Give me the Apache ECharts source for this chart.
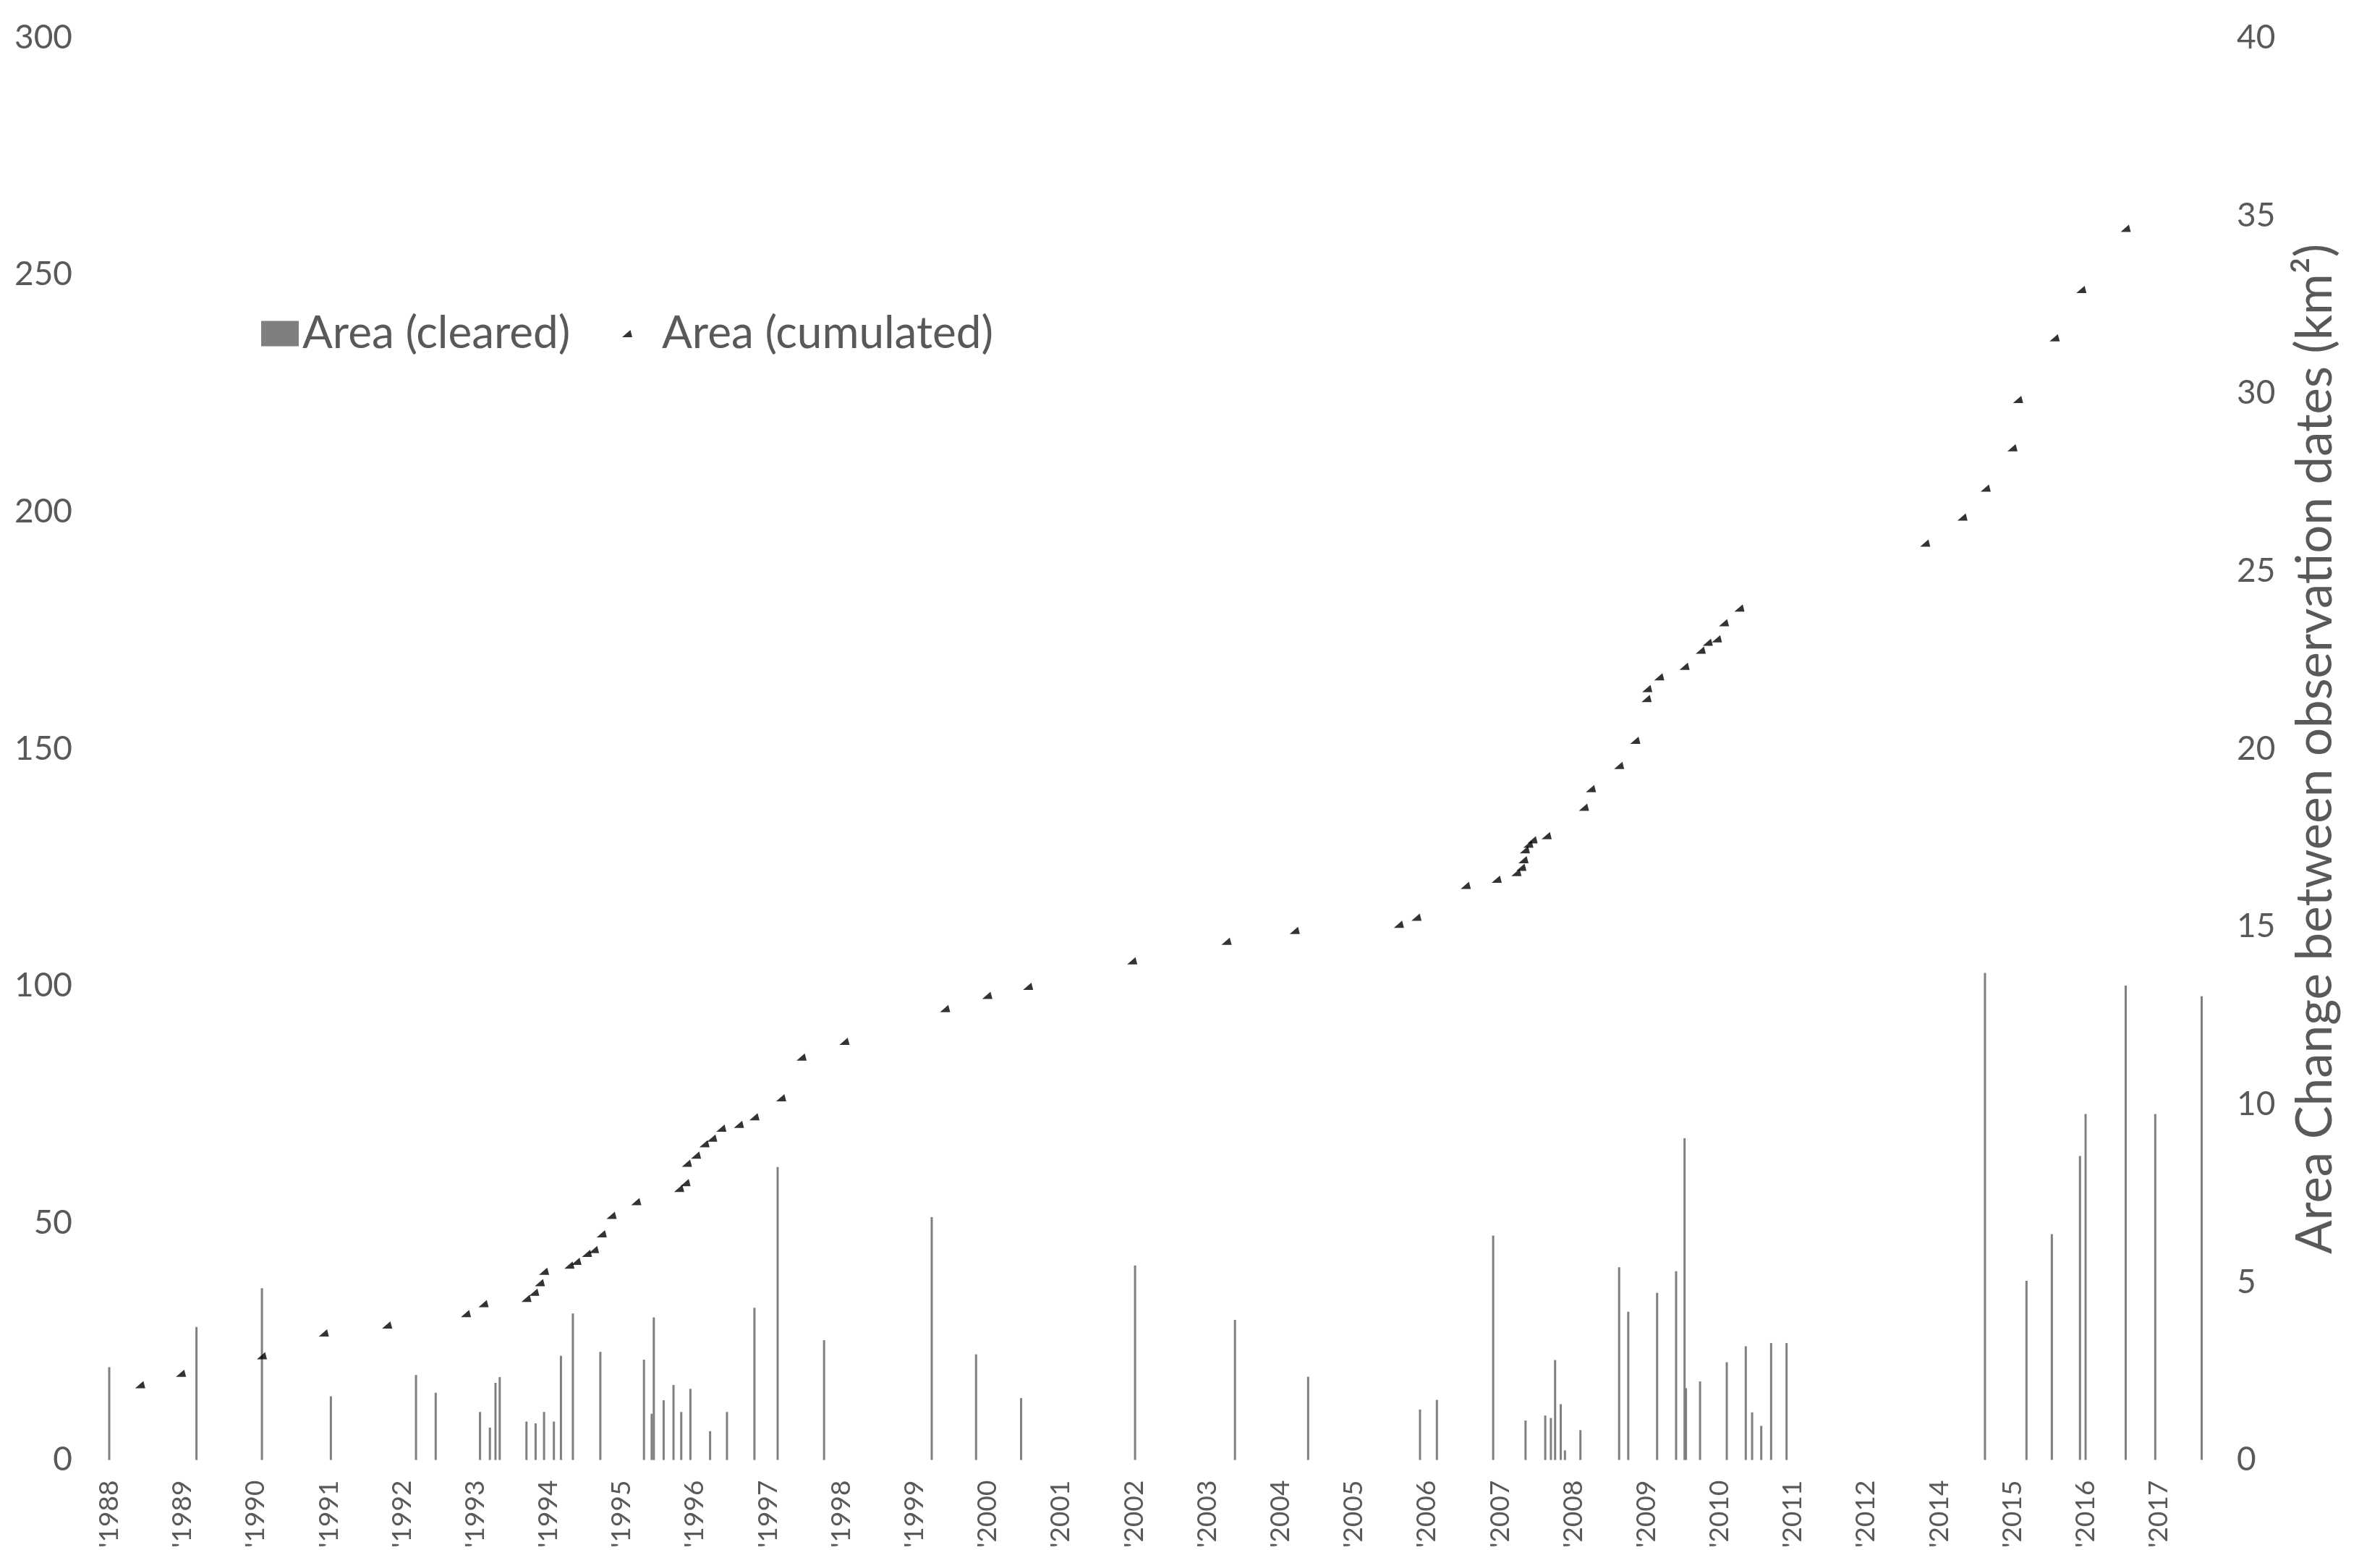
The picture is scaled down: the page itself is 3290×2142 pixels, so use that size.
<!DOCTYPE html>
<html>
<head>
<meta charset="utf-8">
<script src="https://cdn.jsdelivr.net/npm/echarts@6/dist/echarts.min.js"></script>
<style>
  html, body { margin: 0; padding: 0; background: #ffffff; }
  #chart { width: 3290px; height: 2142px; }
</style>
</head>
<body>
<div id="chart"></div>
<script>
// Year labels on the time axis (one label every 380 days from the first observation)
const tickLabels = ["'1988", "'1989", "'1990", "'1991", "'1992", "'1993", "'1994", "'1995",
  "'1996", "'1997", "'1998", "'1999", "'2000", "'2001", "'2002", "'2003", "'2004", "'2005",
  "'2006", "'2007", "'2008", "'2009", "'2010", "'2011", "'2012", "'2014", "'2015", "'2016", "'2017"];
const TICK_ORIGIN = 1988;
const TICK_STEP = 380 / 365.25;   // label spacing, in decimal years

// Area cleared between two observation dates (km², right axis)
const clearedDates = [1988.00, 1989.24, 1990.17, 1991.15, 1992.36, 1992.64, 1993.27, 1993.41,
  1993.49, 1993.55, 1993.93, 1994.06, 1994.18, 1994.32, 1994.42, 1994.59, 1994.98, 1995.60,
  1995.71, 1995.74, 1995.88, 1996.02, 1996.13, 1996.26, 1996.54, 1996.78, 1997.17, 1997.50,
  1998.16, 1999.69, 2000.32, 2000.96, 2002.58, 2004.00, 2005.04, 2006.63, 2006.87, 2007.67,
  2008.13, 2008.41, 2008.49, 2008.55, 2008.63, 2008.69, 2008.91, 2009.46, 2009.59, 2010.00,
  2010.27, 2010.39, 2010.41, 2010.61, 2010.99, 2011.26, 2011.35, 2011.48, 2011.62, 2011.84,
  2014.66, 2015.25, 2015.61, 2016.01, 2016.09, 2016.66, 2017.08, 2017.74];
const clearedArea = [2.61, 3.74, 4.83, 1.79, 2.39, 1.89, 1.35, 0.91,
  2.17, 2.33, 1.08, 1.03, 1.35, 1.08, 2.93, 4.12, 3.04, 2.82,
  1.30, 4.01, 1.68, 2.11, 1.35, 2.00, 0.81, 1.35, 4.28, 8.24,
  3.37, 6.83, 2.97, 1.74, 5.47, 3.94, 2.34, 1.42, 1.69, 6.31,
  1.11, 1.25, 1.18, 2.81, 1.57, 0.27, 0.84, 5.42, 4.17, 4.70,
  5.31, 9.05, 2.02, 2.21, 2.75, 3.20, 1.34, 0.96, 3.29, 3.29,
  13.70, 5.04, 6.35, 8.55, 9.73, 13.34, 9.73, 13.04];

// Cumulated cleared area (left axis)
const cumDates = [1988.44, 1989.02, 1990.17, 1991.05, 1991.95, 1993.07, 1993.32, 1993.93,
  1994.04, 1994.12, 1994.18, 1994.54, 1994.64, 1994.79, 1994.89, 1995.00, 1995.14, 1995.49,
  1996.10, 1996.19, 1996.21, 1996.34, 1996.46, 1996.57, 1996.70, 1996.95, 1997.17, 1997.55,
  1997.84, 1998.45, 1999.88, 2000.48, 2001.06, 2002.54, 2003.88, 2004.85, 2006.33, 2006.58,
  2007.28, 2007.72, 2008.00, 2008.07, 2008.10, 2008.12, 2008.17, 2008.23, 2008.43, 2008.96,
  2009.06, 2009.46, 2009.69, 2009.85, 2009.86, 2010.03, 2010.39, 2010.62, 2010.72, 2010.85,
  2010.95, 2011.17, 2013.81, 2014.34, 2014.67, 2015.05, 2015.13, 2015.65, 2016.03, 2016.66];
const cumArea = [15.9, 18.3, 22.0, 26.8, 28.5, 30.9, 33.0, 34.1,
  35.4, 37.4, 39.8, 41.1, 41.9, 43.6, 44.4, 47.7, 51.6, 54.5,
  57.3, 58.5, 62.6, 64.3, 66.7, 67.9, 70.0, 70.8, 72.4, 76.4,
  85.0, 88.3, 95.2, 98.0, 99.9, 105.3, 109.4, 111.7, 113.0, 114.5,
  121.2, 122.5, 123.9, 125.0, 126.6, 128.7, 129.9, 130.8, 131.7, 137.7,
  141.6, 146.5, 151.8, 160.6, 162.7, 165.2, 167.4, 170.8, 172.5, 173.2,
  176.6, 179.7, 193.4, 198.9, 205.0, 213.5, 223.7, 236.7, 246.9, 259.8];

const tickValues = tickLabels.map((_, i) => TICK_ORIGIN + i * TICK_STEP);

const FONT = 'Lato';
const TEXT = '#595959';
const BAR = '#7f7f7f';
const WEDGE = 'path://M0,8 L11,8 L9,0 Z';

const chart = echarts.init(document.getElementById('chart'), null, { renderer: 'canvas' });

chart.setOption({
  animation: false,
  backgroundColor: '#ffffff',
  textStyle: { fontFamily: FONT },
  grid: { left: 151, right: 246, top: 52, bottom: 122, containLabel: false },
  legend: [
    {
      data: [{ name: 'Area (cleared)', icon: 'rect' }],
      left: 361, top: 429, padding: 0,
      itemWidth: 52, itemHeight: 35,
      textStyle: { fontFamily: FONT, fontSize: 62, color: TEXT, lineHeight: 64 }
    },
    {
      data: [{ name: 'Area (cumulated)', icon: WEDGE }],
      left: 860, top: 429, padding: 0,
      itemWidth: 14, itemHeight: 11,
      textStyle: { fontFamily: FONT, fontSize: 62, color: TEXT, lineHeight: 64, padding: [0, 0, 0, 36] }
    }
  ],
  xAxis: {
    type: 'value',
    min: TICK_ORIGIN,
    max: 2017.745,
    axisLine: { show: false },
    axisTick: { show: false },
    splitLine: { show: false },
    axisLabel: {
      customValues: tickValues,
      rotate: 90,
      margin: 28,
      fontFamily: FONT,
      fontSize: 37,
      color: TEXT,
      formatter: v => tickLabels[Math.round((v - TICK_ORIGIN) / TICK_STEP)]
    }
  },
  yAxis: [
    {
      type: 'value',
      min: 0, max: 300, interval: 50,
      position: 'left',
      axisLine: { show: false },
      axisTick: { show: false },
      splitLine: { show: false },
      axisLabel: { margin: 51, fontFamily: FONT, fontSize: 46, color: TEXT }
    },
    {
      type: 'value',
      min: 0, max: 40, interval: 5,
      position: 'right',
      axisLine: { show: false },
      axisTick: { show: false },
      splitLine: { show: false },
      axisLabel: { margin: 48, fontFamily: FONT, fontSize: 46, color: TEXT },
      name: 'Area Change between observation dates (km²)',
      nameLocation: 'middle',
      nameRotate: 90,
      nameGap: 122,
      nameTextStyle: { fontFamily: FONT, fontSize: 69, color: TEXT }
    }
  ],
  series: [
    {
      name: 'Area (cleared)',
      type: 'bar',
      yAxisIndex: 1,
      barWidth: 3,
      itemStyle: { color: BAR },
      data: clearedDates.map((d, i) => [d, clearedArea[i]])
    },
    {
      name: 'Area (cumulated)',
      type: 'scatter',
      yAxisIndex: 0,
      symbol: WEDGE,
      symbolSize: [14, 10],
      itemStyle: { color: '#000000' },
      data: cumDates.map((d, i) => [d, cumArea[i]])
    }
  ]
});
</script>
</body>
</html>
